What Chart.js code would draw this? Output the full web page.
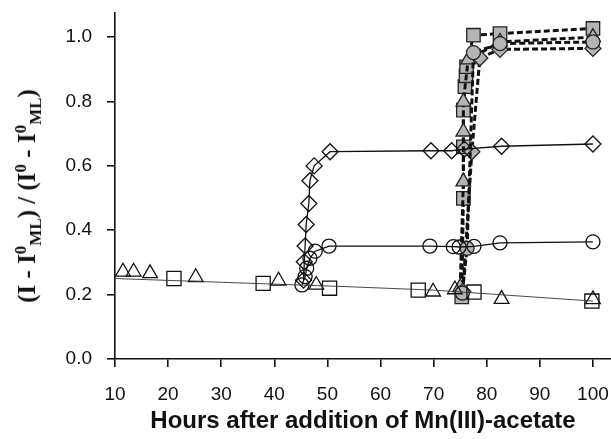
<!DOCTYPE html>
<html>
<head>
<meta charset="utf-8">
<script src="https://cdn.jsdelivr.net/npm/chart.js@4.4.0/dist/chart.umd.min.js"></script>
<style>
  html, body { margin: 0; padding: 0; background: #fff; }
  #wrap { position: relative; width: 611px; height: 439px; }
  #ylabel {
    position: absolute; left: 27px; top: 196px;
    transform: translate(-50%, -50%) rotate(-90deg);
    font-family: "Liberation Serif", "Times New Roman", serif;
    font-weight: bold; font-size: 25px; color: #111; white-space: nowrap;
  }
  #ylabel sup, #ylabel sub { font-size: 17px; line-height: 0; }
</style>
</head>
<body>
<div id="wrap">
  <canvas id="c" width="611" height="439"></canvas>
  <div id="ylabel">(I - I<sup>0</sup><sub>ML</sub>) / (I<sup>0</sup> - I<sup>0</sup><sub>ML</sub>)</div>
</div>
<script>
// open symbols (no line)
const triX = [11.5, 13.5, 16.6, 25.2, 40.8, 47.9, 69.9, 74.0, 82.8, 100];
const triY = [0.271, 0.271, 0.266, 0.254, 0.243, 0.230, 0.209, 0.216, 0.186, 0.185];
const sqX = [21.1, 37.9, 50.4, 67.1, 77.6, 99.8];
const sqY = [0.250, 0.235, 0.220, 0.214, 0.208, 0.180];
// thin trend line through open triangles/squares
const trendX = [10, 54, 70, 100];
const trendY = [0.250, 0.2245, 0.214, 0.180];

// open diamonds, solid line
const diaX = [45.5, 45.65, 45.8, 46.0, 46.5, 46.7, 47.5, 50.5, 69.5, 73.4, 75.8, 82.8, 100];
const diaY = [0.245, 0.302, 0.351, 0.418, 0.483, 0.554, 0.600, 0.644, 0.647, 0.647, 0.652, 0.661, 0.668];

// open circles, solid line
const cirX = [45.2, 45.8, 46.1, 46.7, 47.7, 50.3, 69.3, 73.7, 74.8, 77.6, 82.5, 100];
const cirY = [0.230, 0.256, 0.282, 0.313, 0.335, 0.351, 0.351, 0.349, 0.348, 0.350, 0.361, 0.364];

// grey symbols, dashed lines
const gSqX = [75.3, 75.6, 75.6, 75.6, 75.9, 76.1, 76.2, 77.5, 82.5, 100];
const gSqY = [0.193, 0.499, 0.659, 0.773, 0.846, 0.880, 0.908, 1.006, 1.011, 1.027];
const gTriX = [75.0, 75.6, 75.6, 75.6, 76.5, 82.5, 100];
const gTriY = [0.223, 0.551, 0.706, 0.799, 0.930, 0.985, 1.000];
const gCirX = [75.4, 76.3, 77.5, 82.5, 100];
const gCirY = [0.205, 0.344, 0.952, 0.980, 0.985];
const gDiaX = [75.5, 77.2, 78.7, 82.5, 100];
const gDiaY = [0.210, 0.644, 0.935, 0.962, 0.965];

const xTicks = [10, 20, 30, 40, 50, 60, 70, 80, 90, 100];
const yTicks = [0.0, 0.2, 0.4, 0.6, 0.8, 1.0];

function pts(xs, ys) { return xs.map((x, i) => ({ x: x, y: ys[i] })); }

const INK = '#111';
const GREY = '#b4b4b4';
const NONE = 'rgba(0,0,0,0)';

function openSet(xs, ys, style, r, line) {
    return {
        data: pts(xs, ys), showLine: line, borderColor: INK, borderWidth: 1.3,
        pointStyle: style, pointRadius: r, pointBackgroundColor: NONE,
        pointBorderColor: INK, pointBorderWidth: 1.3
    };
}
function greySet(xs, ys, style, r) {
    return {
        data: pts(xs, ys), showLine: true, borderColor: INK, borderWidth: 3,
        borderDash: [6, 3], pointStyle: style, pointRadius: r,
        pointBackgroundColor: GREY, pointBorderColor: '#222', pointBorderWidth: 1.3
    };
}

const datasets = [
    { data: pts(trendX, trendY), showLine: true, borderColor: '#333', borderWidth: 0.9, pointRadius: 0 },
    openSet(triX, triY, 'triangle', 8.5, false),
    openSet(sqX, sqY, 'rect', 10, false),
    openSet(diaX, diaY, 'rectRot', 8, true),
    openSet(cirX, cirY, 'circle', 7, true),
    greySet(gCirX, gCirY, 'circle', 7),
    greySet(gDiaX, gDiaY, 'rectRot', 8),
    greySet(gTriX, gTriY, 'triangle', 8.5),
    greySet(gSqX, gSqY, 'rect', 9.5)
];

const tickFont = { family: '"Liberation Sans", Arial, sans-serif', size: 19 };

new Chart(document.getElementById('c'), {
    type: 'scatter',
    data: { datasets: datasets },
    options: {
        responsive: false,
        animation: false,
        layout: { autoPadding: false, padding: { top: 13, right: 0, left: 0, bottom: 0 } },
        plugins: { legend: { display: false }, tooltip: { enabled: false } },
        scales: {
            x: {
                type: 'linear', min: 10, max: 103.4,
                afterBuildTicks: s => { s.ticks = xTicks.map(v => ({ value: v })); },
                afterFit: s => { s.height = 80; s.paddingLeft = 0; s.paddingRight = 0; },
                grid: { drawOnChartArea: false, drawTicks: true, tickLength: 8, color: INK, lineWidth: 1.6 },
                border: { display: true, color: INK, width: 1.6 },
                ticks: { color: INK, font: tickFont, padding: 16, maxRotation: 0, autoSkip: false,
                         callback: v => String(v) },
                title: { display: true, text: 'Hours after addition of Mn(III)-acetate', color: INK,
                         font: { family: '"Liberation Sans", Arial, sans-serif', size: 24, weight: 'bold' },
                         padding: { top: 0, bottom: 3 } }
            },
            y: {
                type: 'linear', min: 0, max: 1.075,
                afterBuildTicks: s => { s.ticks = yTicks.map(v => ({ value: v })); },
                afterFit: s => { s.width = 115; s.paddingTop = 0; s.paddingBottom = 0; },
                grid: { drawOnChartArea: false, drawTicks: true, tickLength: 8, color: INK, lineWidth: 1.6 },
                border: { display: true, color: INK, width: 1.6 },
                ticks: { color: INK, font: tickFont, padding: 15, callback: v => v.toFixed(1) }
            }
        }
    }
});
</script>
</body>
</html>
